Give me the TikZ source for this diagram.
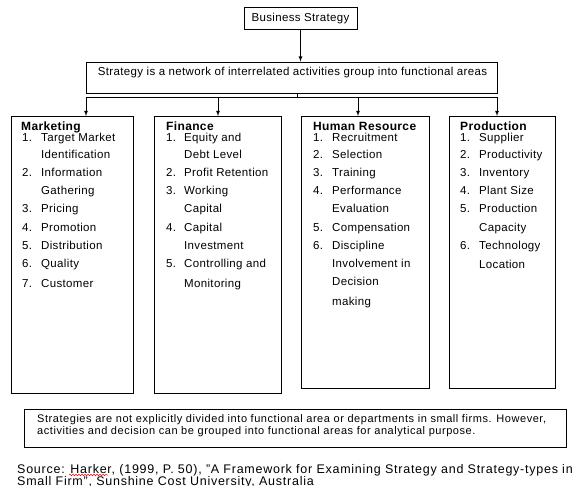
\documentclass[tikz,border=0pt]{standalone}
\usepackage{fontspec}
\setmainfont[LetterSpace=3]{Liberation Sans}
\usetikzlibrary{positioning,decorations.pathmorphing}

\tikzset{
  box/.style={draw,line width=.9pt,inner sep=0pt},
  areabox/.style={box,anchor=north west},
  areatitle/.style={inner sep=0pt,anchor=base west,font=\fontsize{12}{13}\selectfont\bfseries},
  item/.style={inner sep=0pt,anchor=base west,font=\fontsize{11.5}{13}\selectfont},
  conn/.style={line width=.8pt,-latex},
}

\begin{document}
\begin{tikzpicture}[x=1pt,y=-1pt]
  \useasboundingbox (0,0) rectangle (572,486);
  % top of the chart
  \node[box,minimum width=113pt,minimum height=22pt,font=\fontsize{11.5}{13}\selectfont] (bs) at (300.5,18.5) {Business Strategy};
  \node[box,minimum width=411pt,minimum height=31pt] (net) at (291.5,77.5) {};
  \node[inner sep=0pt,anchor=base,font=\fontsize{11.5}{13}\selectfont] (net-txt) at (292.5,76) {Strategy is a network of interrelated activities group into functional areas};
  \draw[conn] (bs) -- (bs.south |- net.north);

  % the four functional areas
  \node[areabox,minimum width=122pt,minimum height=277pt] (mkt) at (11,116) {};
  \node[areabox,minimum width=127pt,minimum height=277pt] (fin) at (154,116) {};
  \node[areabox,minimum width=128pt,minimum height=272pt] (hrm) at (301,116) {};
  \node[areabox,minimum width=106pt,minimum height=272pt] (prd) at (449,116) {};

  \coordinate (split) at (297,97);
  \coordinate (bus-mkt) at (86,97);
  \coordinate (bus-fin) at (218,97);
  \coordinate (bus-hrm) at (358,97);
  \coordinate (bus-prd) at (497,97);
  \draw[line width=.8pt] (net.south -| split) -- (split);
  \draw[line width=.8pt] (bus-mkt) -- (bus-prd);
  \foreach \c/\b in {bus-mkt/mkt,bus-fin/fin,bus-hrm/hrm,bus-prd/prd}
    \draw[conn] (\c) -- (\c |- \b.north);

  \node[areatitle] (mkt-t) at (21,131) {Marketing};
  \node[areatitle] (fin-t) at (166,131) {Finance};
  \node[areatitle] (hrm-t) at (313,131) {Human Resource};
  \node[areatitle] (prd-t) at (460,131) {Production};

  \foreach \yy/\nn/\lab [count=\k] in {142/1./Target Market,159//Identification,
      177/2./Information,195//Gathering,213/3./Pricing,231/4./Promotion,
      249/5./Distribution,267/6./Quality,287/7./Customer}
    \node[item] (mkt-\k) at (22,\yy) {\makebox[19pt][l]{\nn}\lab};
  \foreach \yy/\nn/\lab [count=\k] in {142/1./Equity and,159//Debt Level,
      177/2./Profit Retention,195/3./Working,213//Capital,231/4./Capital,
      249//Investment,267/5./Controlling and,287//Monitoring}
    \node[item] (fin-\k) at (166,\yy) {\makebox[18pt][l]{\nn}\lab};
  \foreach \yy/\nn/\lab [count=\k] in {142/1./Recruitment,159/2./Selection,
      177/3./Training,195/4./Performance,213//Evaluation,231/5./Compensation,
      249/6./Discipline,267//Involvement in,285//Decision,305//making}
    \node[item] (hrm-\k) at (313,\yy) {\makebox[19pt][l]{\nn}\lab};
  \foreach \yy/\nn/\lab [count=\k] in {142/1./Supplier,159/2./Productivity,
      177/3./Inventory,195/4./Plant Size,213/5./Production,231//Capacity,
      249/6./Technology,268//Location}
    \node[item] (prd-\k) at (460,\yy) {\makebox[19pt][l]{\nn}\lab};

  % note and source
  \node[areabox,minimum width=542pt,minimum height=38pt] (note) at (24,409) {};
  \node[inner sep=0pt,anchor=north west,align=left,font=\fontsize{11}{12}\selectfont\addfontfeature{LetterSpace=5}] (note-txt) at (37,414)
    {Strategies are not explicitly divided into functional area or departments in small firms. However,\\
     activities and decision can be grouped into functional areas for analytical purpose.};
  \node[inner sep=0pt,anchor=north west,align=left,font=\fontsize{12.5}{12}\selectfont\addfontfeature{LetterSpace=6}] (src) at (17,464)
    {Source: Harker, (1999, P. 50), "A Framework for Examining Strategy and Strategy-types in\\
     Small Firm", Sunshine Cost University, Australia};
  \draw[red,line width=.5pt,decorate,decoration={snake,amplitude=.8pt,segment length=3pt}] (69,475) -- (108,475);
\end{tikzpicture}
\end{document}
